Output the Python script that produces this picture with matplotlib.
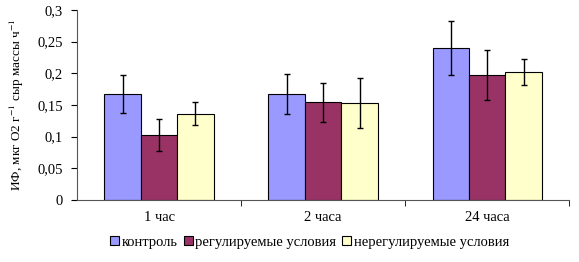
import numpy as np
import matplotlib.pyplot as plt

plt.rcParams['font.family'] = ['Liberation Serif', 'DejaVu Serif']
plt.rcParams['mathtext.fontset'] = 'stix'

# data
groups = ['1 час', '2 часа', '24 часа']
series = ['контроль', 'регулируемые условия', 'нерегулируемые условия']
control = [0.167, 0.167, 0.240]
regulated = [0.102, 0.154, 0.197]
unregulated = [0.136, 0.153, 0.202]
control_err = [0.030, 0.032, 0.042]
regulated_err = [0.025, 0.031, 0.039]
unregulated_err = [0.018, 0.039, 0.021]
yticks = [0, 0.05, 0.1, 0.15, 0.2, 0.25, 0.3]
ytick_labels = ['0', '0,05', '0,1', '0,15', '0,2', '0,25', '0,3']

colors = ['#9999FF', '#993366', '#FFFFCC']

fig = plt.figure(figsize=(5.79, 2.62), dpi=100)
ax = fig.add_axes([0.133, 0.237, 0.850, 0.725])

x = np.arange(len(groups))
w = 0.222
for i, (vals, errs) in enumerate(zip([control, regulated, unregulated],
                                     [control_err, regulated_err, unregulated_err])):
    ax.bar(x + (i - 1) * w, vals, w, color=colors[i], edgecolor='black',
           linewidth=0.8, label=series[i], zorder=2)
    ax.errorbar(x + (i - 1) * w, vals, yerr=errs, fmt='none', ecolor='black',
                elinewidth=1, capsize=2.5, capthick=1, zorder=3)

ax.set_xlim(-0.5, 2.5)
ax.set_ylim(0, 0.3)
ax.set_yticks(yticks)
ax.set_yticklabels(ytick_labels, fontsize=10.5)
ax.set_xticks(x)
ax.set_xticklabels(groups, fontsize=10.5)
ax.tick_params(axis='x', length=0, pad=8)
ax.set_xticks([0.5, 1.5, 2.5], minor=True)
ax.tick_params(axis='x', which='minor', length=4, direction='out')
ax.tick_params(axis='y', length=4, direction='out', pad=6)
ax.spines['top'].set_visible(False)
ax.spines['right'].set_visible(False)
ax.spines['left'].set_color('#555555')
ax.spines['bottom'].set_color('#555555')

ax.set_ylabel(r'ИФ, мкг О2 г$^{-1}$ сыр массы ч$^{-1}$', fontsize=9.5, labelpad=8)

fig.legend(loc='center', bbox_to_anchor=(0.535, 0.075), ncol=3, frameon=False,
           fontsize=10.5, handlelength=0.6, handleheight=0.6, handletextpad=0.2,
           columnspacing=0.4)

fig.savefig('out.png', dpi=100)
